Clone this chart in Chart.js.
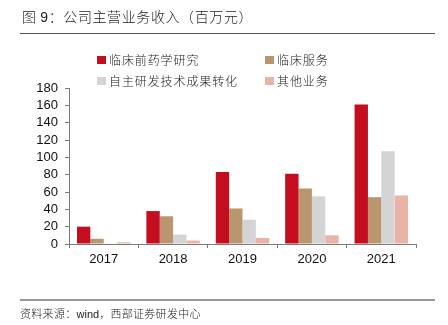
<!DOCTYPE html>
<html>
<head>
<meta charset="utf-8">
<script src="https://cdn.jsdelivr.net/npm/chart.js@4.4.1/dist/chart.umd.min.js"></script>
<style>
  html, body { margin: 0; padding: 0; background: #fff; }
  #wrap { position: relative; width: 448px; height: 325px; overflow: hidden; }
  #chart { position: absolute; left: 0; top: 0; }
  .cjk { font-family: "Noto Sans CJK SC", sans-serif; font-weight: 300; color: #222; position: absolute; white-space: nowrap; }
  #title { left: 22px; top: 6px; font-size: 14px; letter-spacing: 0.6px; line-height: 20px; }
  #title .num { font-family: "Liberation Sans", Arial, sans-serif; }
  #rule-top { position: absolute; left: 20px; top: 33px; width: 415px; height: 1px; background: #555; }
  #rule-bot { position: absolute; left: 20px; top: 299px; width: 415px; height: 2px; background: #999; }
  #source { left: 20px; top: 305px; font-size: 11px; line-height: 16px; letter-spacing: 0.3px; }
  #source .lat { font-family: "Liberation Sans", Arial, sans-serif; letter-spacing: 0; }
  .leg { font-size: 12px; line-height: 16px; letter-spacing: 0.9px; padding-left: 12px; }
  .leg i { position: absolute; left: 0; top: 4px; width: 9px; height: 8px; }
</style>
</head>
<body>
<div id="wrap">
  <canvas id="chart" width="448" height="325"></canvas>
  <div id="title" class="cjk">图 <span class="num">9</span>：公司主营业务收入（百万元）</div>
  <div id="rule-top"></div>
  <div id="legend"></div>
  <div id="rule-bot"></div>
  <div id="source" class="cjk">资料来源：<span class="lat">wind</span>，西部证券研发中心</div>
</div>
<script>
// 公司主营业务收入，单位：百万元
const years = ['2017', '2018', '2019', '2020', '2021'];
const preclinical = [20, 38, 83, 81, 161];   // 临床前药学研究
const clinical    = [6, 32, 41, 64, 54];     // 临床服务
const techTransfer = [0.4, 11, 28, 55, 107]; // 自主研发技术成果转化
const otherBiz    = [2, 4, 7, 10, 56];       // 其他业务
const yTicks = [0, 20, 40, 60, 80, 100, 120, 140, 160, 180];

const seriesNames = ['临床前药学研究', '临床服务', '自主研发技术成果转化', '其他业务'];
const seriesData = [preclinical, clinical, techTransfer, otherBiz];
const seriesColors = ['#c40d1e', '#b9966f', '#d4d4d4', '#e9b3a8'];

// legend: two columns, two rows
const legendPos = [[97, 52], [265, 52], [97, 73], [265, 73]];
const legendEl = document.getElementById('legend');
seriesNames.forEach((name, i) => {
  const d = document.createElement('div');
  d.className = 'cjk leg';
  d.style.left = legendPos[i][0] + 'px';
  d.style.top = legendPos[i][1] + 'px';
  d.innerHTML = `<i style="background:${seriesColors[i]}"></i>${name}`;
  legendEl.appendChild(d);
});

const axisColor = '#7a7a7a';
const numFont = { family: '"Liberation Sans", Arial, sans-serif', size: 13 };

new Chart(document.getElementById('chart'), {
  type: 'bar',
  data: {
    labels: years,
    datasets: seriesData.map((data, i) => ({
      label: seriesNames[i],
      data,
      backgroundColor: seriesColors[i],
      borderWidth: 0,
      categoryPercentage: 0.77,
      barPercentage: 1.0,
    })),
  },
  options: {
    responsive: false,
    animation: false,
    devicePixelRatio: 1,
    layout: { padding: { left: 0, right: 32, top: 88, bottom: 51 } },
    plugins: { legend: { display: false }, tooltip: { enabled: false } },
    scales: {
      x: {
        grid: { display: true, drawOnChartArea: false, tickLength: 4, color: axisColor, offset: true },
        border: { color: axisColor, width: 1 },
        ticks: { color: '#111', font: numFont, padding: 4 },
        afterFit: s => { s.height = 30; },
      },
      y: {
        min: 0, max: 180,
        afterBuildTicks: s => { s.ticks = yTicks.map(v => ({ value: v })); },
        grid: { display: true, drawOnChartArea: false, tickLength: 4, color: axisColor },
        border: { color: axisColor, width: 1 },
        ticks: { color: '#111', font: numFont, padding: 7, autoSkip: false },
        afterFit: s => { s.width = 69; },
      },
    },
  },
});
</script>
</body>
</html>
